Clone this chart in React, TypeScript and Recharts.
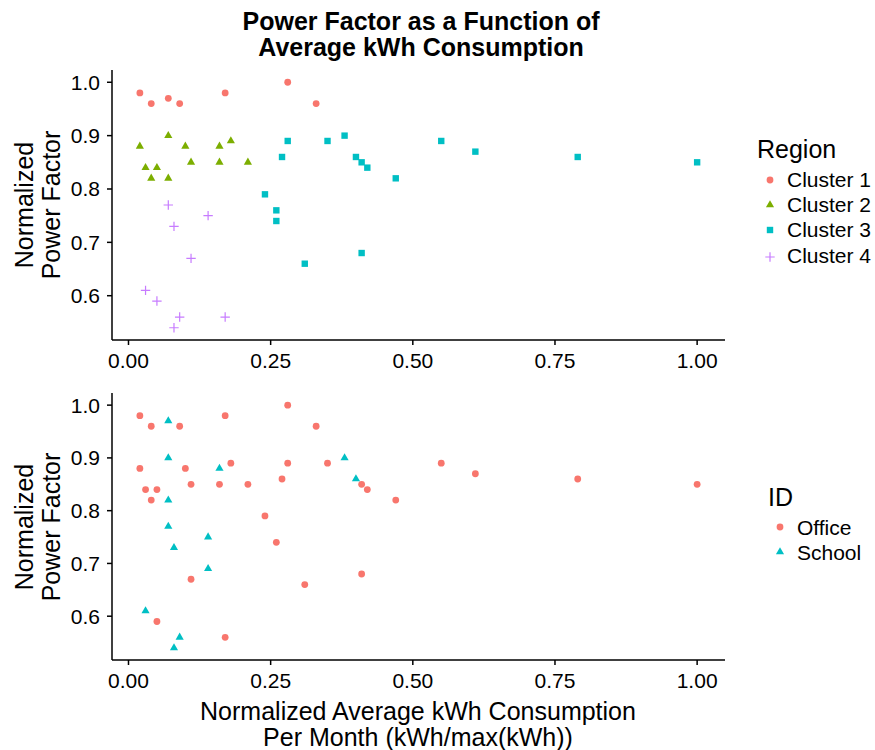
import { Scatter, ScatterChart, XAxis, YAxis } from 'recharts';

const FONT = '"Liberation Sans", Arial, Helvetica, sans-serif';

// Colors (ggplot hue palette)
const RED = '#F8766D';
const GREEN = '#7CAE00';
const CYAN = '#00BFC4';
const PURPLE = '#C77CFF';

const xTicks = [0, 0.25, 0.5, 0.75, 1];
const yTicks = [0.6, 0.7, 0.8, 0.9, 1.0];

// Top panel: Region clusters
const cluster1X = [0.02, 0.04, 0.07, 0.09, 0.17, 0.28, 0.33];
const cluster1Y = [0.98, 0.96, 0.97, 0.96, 0.98, 1.0, 0.96];

const cluster2X = [0.02, 0.07, 0.1, 0.16, 0.18, 0.03, 0.05, 0.04, 0.07, 0.11, 0.16, 0.21];
const cluster2Y = [0.88, 0.9, 0.88, 0.88, 0.89, 0.84, 0.84, 0.82, 0.82, 0.85, 0.85, 0.85];

const cluster3X = [0.28, 0.35, 0.38, 0.27, 0.4, 0.41, 0.42, 0.47, 0.24, 0.26, 0.26, 0.31, 0.41, 0.55, 0.61, 0.79, 1.0];
const cluster3Y = [0.89, 0.89, 0.9, 0.86, 0.86, 0.85, 0.84, 0.82, 0.79, 0.76, 0.74, 0.66, 0.68, 0.89, 0.87, 0.86, 0.85];

const cluster4X = [0.07, 0.08, 0.14, 0.11, 0.03, 0.05, 0.09, 0.08, 0.17];
const cluster4Y = [0.77, 0.73, 0.75, 0.67, 0.61, 0.59, 0.56, 0.54, 0.56];

// Bottom panel: building ID
const officeX = [
  0.02, 0.04, 0.09, 0.17, 0.28, 0.33, 0.02, 0.1, 0.18, 0.28, 0.35, 0.03, 0.05, 0.04, 0.11, 0.16,
  0.21, 0.27, 0.41, 0.42, 0.47, 0.24, 0.26, 0.11, 0.31, 0.41, 0.05, 0.17, 0.55, 0.61, 0.79, 1.0,
];
const officeY = [
  0.98, 0.96, 0.96, 0.98, 1.0, 0.96, 0.88, 0.88, 0.89, 0.89, 0.89, 0.84, 0.84, 0.82, 0.85, 0.85,
  0.85, 0.86, 0.85, 0.84, 0.82, 0.79, 0.74, 0.67, 0.66, 0.68, 0.59, 0.56, 0.89, 0.87, 0.86, 0.85,
];

const schoolX = [0.07, 0.07, 0.16, 0.07, 0.07, 0.08, 0.14, 0.14, 0.38, 0.4, 0.03, 0.09, 0.08];
const schoolY = [0.97, 0.9, 0.88, 0.82, 0.77, 0.73, 0.75, 0.69, 0.9, 0.86, 0.61, 0.56, 0.54];

const zip = (xs: number[], ys: number[]) => xs.map((x, i) => ({ x, y: ys[i] }));

// point shapes, ggplot-ish
const circleShape = (color: string) => (p: any) => <circle cx={p.cx} cy={p.cy} r={3.4} fill={color} />;

const triangleShape = (color: string) => (p: any) => {
  const r = 4.7;
  const h = r * 0.866;
  return (
    <polygon
      points={`${p.cx},${p.cy - r} ${p.cx + h},${p.cy + r / 2} ${p.cx - h},${p.cy + r / 2}`}
      fill={color}
    />
  );
};

const squareShape = (color: string) => (p: any) => (
  <rect x={p.cx - 3.2} y={p.cy - 3.2} width={6.4} height={6.4} fill={color} />
);

const plusShape = (color: string) => (p: any) => (
  <path
    d={`M${p.cx - 4.7},${p.cy}H${p.cx + 4.7}M${p.cx},${p.cy - 4.7}V${p.cy + 4.7}`}
    stroke={color}
    strokeWidth={1.2}
    fill="none"
  />
);

const tickStyle = { fill: '#000', fontSize: 21, fontFamily: FONT };
const axisLine = { stroke: '#000', strokeWidth: 1.5 };

function Panel({ height, marginTop, children }: { height: number; marginTop: number; children: any }) {
  return (
    <ScatterChart width={875} height={height} margin={{ top: marginTop, right: 150, bottom: 0, left: 0 }}>
      <XAxis
        type="number"
        dataKey="x"
        domain={[-0.029, 1.049]}
        ticks={xTicks}
        interval={0}
        allowDataOverflow
        height={40}
        tickSize={5}
        tickMargin={8}
        tick={tickStyle}
        axisLine={axisLine}
        tickLine={axisLine}
        tickFormatter={(v: number) => v.toFixed(2)}
      />
      <YAxis
        type="number"
        dataKey="y"
        domain={[0.517, 1.023]}
        ticks={yTicks}
        interval={0}
        allowDataOverflow
        width={112}
        tickSize={5}
        tickMargin={7}
        tick={tickStyle}
        axisLine={axisLine}
        tickLine={axisLine}
        tickFormatter={(v: number) => v.toFixed(1)}
      />
      {children}
    </ScatterChart>
  );
}

export default function App() {
  return (
    <div
      style={{
        position: 'absolute',
        left: 0,
        top: 0,
        width: 875,
        height: 750,
        background: '#fff',
        fontFamily: FONT,
      }}
    >
      <div style={{ position: 'absolute', left: 0, top: 0 }}>
        <Panel height={380} marginTop={70}>
          <Scatter data={zip(cluster1X, cluster1Y)} shape={circleShape(RED)} isAnimationActive={false} />
          <Scatter data={zip(cluster2X, cluster2Y)} shape={triangleShape(GREEN)} isAnimationActive={false} />
          <Scatter data={zip(cluster3X, cluster3Y)} shape={squareShape(CYAN)} isAnimationActive={false} />
          <Scatter data={zip(cluster4X, cluster4Y)} shape={plusShape(PURPLE)} isAnimationActive={false} />
        </Panel>
      </div>
      <div style={{ position: 'absolute', left: 0, top: 360 }}>
        <Panel height={340} marginTop={33}>
          <Scatter data={zip(officeX, officeY)} shape={circleShape(RED)} isAnimationActive={false} />
          <Scatter data={zip(schoolX, schoolY)} shape={triangleShape(CYAN)} isAnimationActive={false} />
        </Panel>
      </div>

      {/* titles and legends */}
      <svg
        width={875}
        height={750}
        style={{ position: 'absolute', left: 0, top: 0, pointerEvents: 'none' }}
        fontFamily={FONT}
      >
        <text x={421} y={30} textAnchor="middle" fontSize={25} fontWeight="bold">
          Power Factor as a Function of
        </text>
        <text x={421} y={56} textAnchor="middle" fontSize={25} fontWeight="bold">
          Average kWh Consumption
        </text>

        <g transform="translate(33,205) rotate(-90)">
          <text textAnchor="middle" fontSize={25}>Normalized</text>
        </g>
        <g transform="translate(60,205) rotate(-90)">
          <text textAnchor="middle" fontSize={25}>Power Factor</text>
        </g>
        <g transform="translate(33,527) rotate(-90)">
          <text textAnchor="middle" fontSize={25}>Normalized</text>
        </g>
        <g transform="translate(60,527) rotate(-90)">
          <text textAnchor="middle" fontSize={25}>Power Factor</text>
        </g>

        <text x={418} y={720} textAnchor="middle" fontSize={25}>
          Normalized Average kWh Consumption
        </text>
        <text x={418} y={746} textAnchor="middle" fontSize={25}>
          Per Month (kWh/max(kWh))
        </text>

        {/* Region legend */}
        <text x={757} y={158} fontSize={25}>Region</text>
        {circleShape(RED)({ cx: 770, cy: 180 })}
        <text x={787} y={187} fontSize={21}>Cluster 1</text>
        {triangleShape(GREEN)({ cx: 770, cy: 205 })}
        <text x={787} y={212} fontSize={21}>Cluster 2</text>
        {squareShape(CYAN)({ cx: 770, cy: 230 })}
        <text x={787} y={237} fontSize={21}>Cluster 3</text>
        {plusShape(PURPLE)({ cx: 770, cy: 257 })}
        <text x={787} y={263} fontSize={21}>Cluster 4</text>

        {/* ID legend */}
        <text x={768} y={506} fontSize={25}>ID</text>
        {circleShape(RED)({ cx: 780, cy: 527 })}
        <text x={797} y={535} fontSize={21}>Office</text>
        {triangleShape(CYAN)({ cx: 780, cy: 552 })}
        <text x={797} y={560} fontSize={21}>School</text>
      </svg>
    </div>
  );
}
